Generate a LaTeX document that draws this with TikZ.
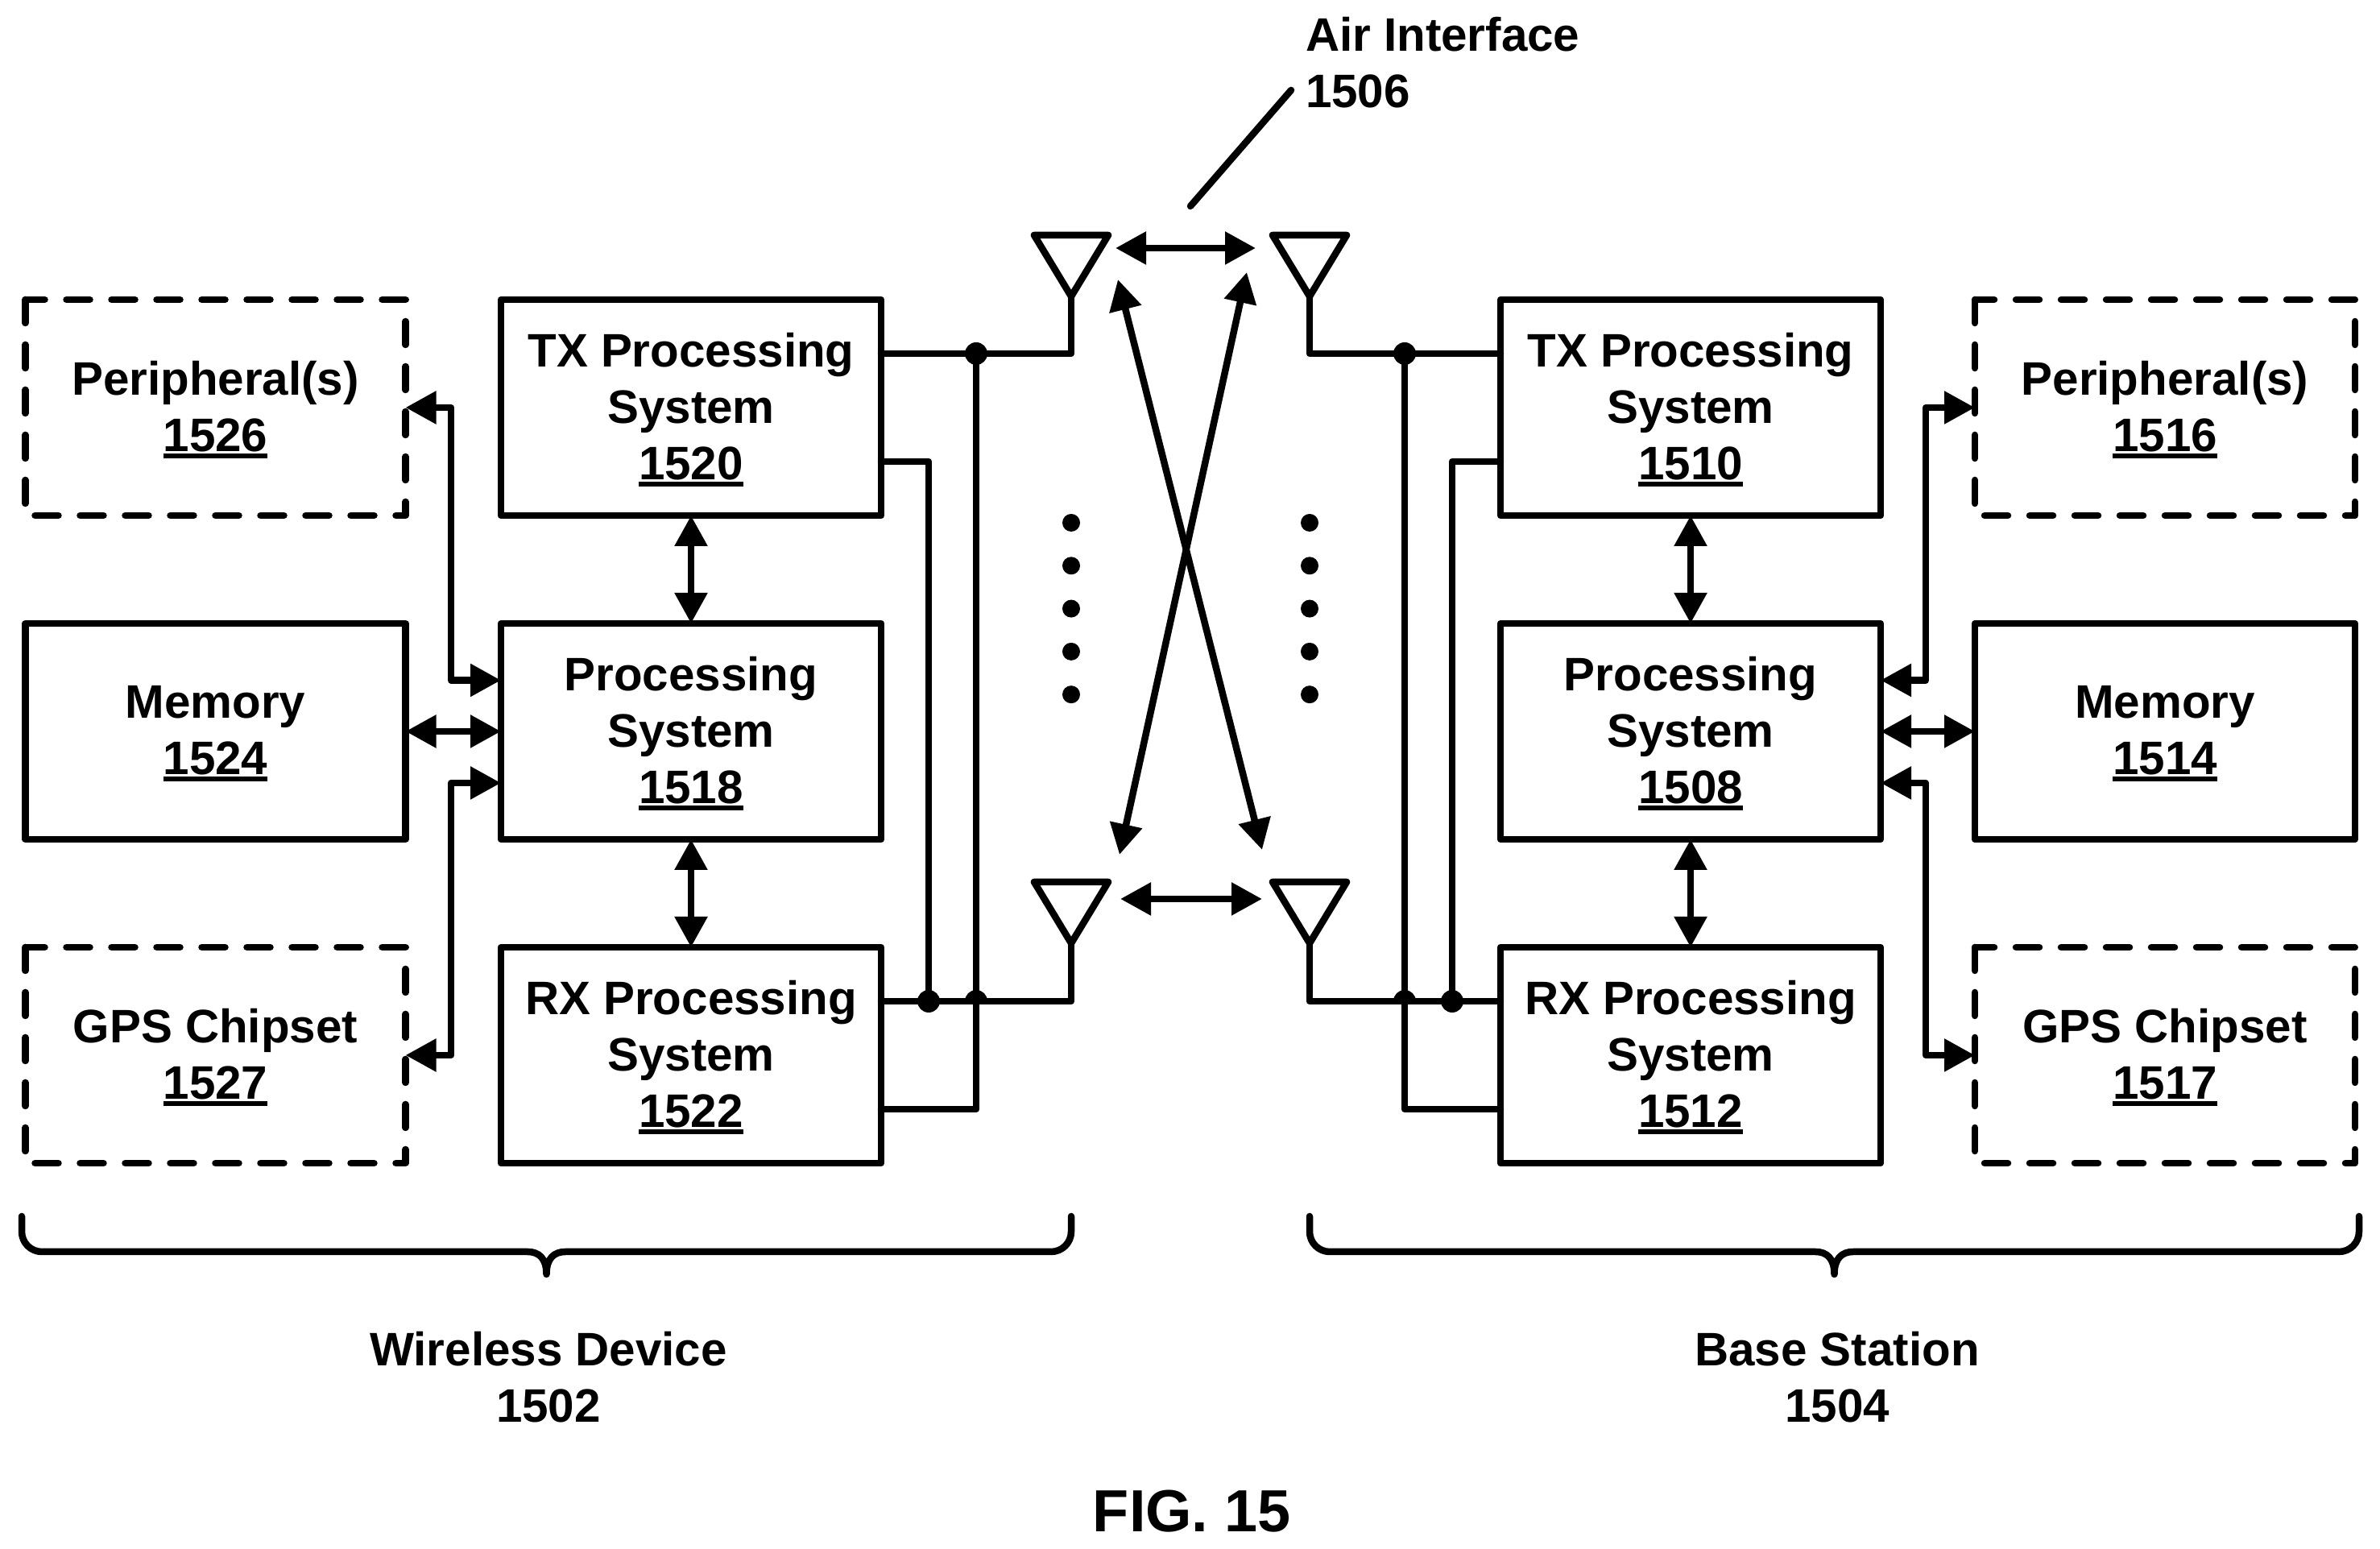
\documentclass[tikz,border=0pt]{standalone}
\usepackage{fontspec}
\setmainfont{Liberation Sans}
\usetikzlibrary{arrows.meta}
\tikzstyle{every node}=[font=\fontsize{16.6}{19.9}\selectfont\bfseries,align=center,inner sep=0pt,outer sep=0pt]
\tikzstyle{blockbox}=[minimum width=4.72cm,minimum height=2.68cm]
\tikzstyle{solidbox}=[blockbox,draw]
\tikzstyle{dashline}=[dash pattern=on 0.29cm off 0.27cm]
\tikzstyle{twoway}=[{Triangle[length=0.38cm,width=0.39cm]}-{Triangle[length=0.38cm,width=0.39cm]}]
\tikzset{
	antenna/.pic={\draw (0,0) -- (-0.46,0.76) -- (0.46,0.76) -- cycle;},
	bracket/.pic={\draw (0,0) -- (0,-0.19) arc[start angle=180,end angle=270,radius=0.25] -- (6.28,-0.44)
		.. controls (6.42,-0.44) and (6.515,-0.52) .. (6.515,-0.72)
		.. controls (6.515,-0.52) and (6.61,-0.44) .. (6.75,-0.44) -- (12.78,-0.44)
		arc[start angle=270,end angle=360,radius=0.25] -- (13.03,0);}
}
\newcommand{\refnum}[1]{\setbox0=\hbox{#1}\rlap{#1}\smash{\rule[-0.085cm]{\wd0}{0.06cm}}\rule[-0.04cm]{0pt}{0.04cm}}
\newcommand{\hopdot}[1]{\fill (#1) ++(-0.14,0) arc[start angle=180,end angle=0,radius=0.14] -- cycle;}

\begin{document}
\begin{tikzpicture}[line width=0.085cm,line cap=round,line join=round,node distance=4.02cm]
	\useasboundingbox (0,0) rectangle (29.55,19.23);
	% wireless device
	\node[solidbox] (proc_w) at (8.58,10.15)         {Processing\\System\\\refnum{1518}};
	\node[solidbox] (tx_w)   [above of=proc_w]       {TX Processing\\System\\\refnum{1520}};
	\node[solidbox] (rx_w)   [below of=proc_w]       {RX Processing\\System\\\refnum{1522}};
	\node[solidbox] (mem_w)  [left of=proc_w,node distance=5.905cm] {Memory\\\refnum{1524}};
	\node[blockbox] (per_w)  [left of=tx_w,node distance=5.905cm]   {Peripheral(s)\\\refnum{1526}};
	\node[blockbox] (gps_w)  [left of=rx_w,node distance=5.905cm]   {GPS Chipset\\\refnum{1527}};
	% base station
	\node[solidbox] (proc_b) at (20.99,10.15)        {Processing\\System\\\refnum{1508}};
	\node[solidbox] (tx_b)   [above of=proc_b]       {TX Processing\\System\\\refnum{1510}};
	\node[solidbox] (rx_b)   [below of=proc_b]       {RX Processing\\System\\\refnum{1512}};
	\node[solidbox] (mem_b)  [right of=proc_b,node distance=5.89cm] {Memory\\\refnum{1514}};
	\node[blockbox] (per_b)  [right of=tx_b,node distance=5.89cm]   {Peripheral(s)\\\refnum{1516}};
	\node[blockbox] (gps_b)  [right of=rx_b,node distance=5.89cm]   {GPS Chipset\\\refnum{1517}};
	\foreach \n in {per_w,gps_w,per_b,gps_b}
		\draw[dashline] (\n.north west) |- (\n.south east) |- (\n.north west);
	% labels
	\node (air_lbl) [anchor=west,align=left] at (16.21,18.455) {Air Interface\\1506};
	\node (wd_lbl) at (6.81,2.135)  {Wireless Device\\1502};
	\node (bs_lbl) at (22.81,2.135) {Base Station\\1504};
	\node (fig_lbl) [font=\fontsize{21}{25}\selectfont\bfseries] at (14.80,0.47) {FIG. 15};
	% antennas
	\coordinate (ant_wt) at (13.30,15.55);
	\coordinate (ant_bt) at (16.26,15.55);
	\coordinate (ant_wr) at (13.30,7.52);
	\coordinate (ant_br) at (16.26,7.52);
	\foreach \a in {ant_wt,ant_bt,ant_wr,ant_br}
		\pic at (\a) {antenna};
	\foreach \x in {13.30,16.26}
		\foreach \k in {0,...,4}
			\fill (\x,12.74-0.533*\k) circle (0.11);
	% wiring, wireless device
	\coordinate (j_wt) at (12.12,14.84);
	\coordinate (s_wt) at (11.53,13.50);
	\coordinate (j_wr) at (11.53,6.80);
	\coordinate (h_wr) at (12.12,6.80);
	\coordinate (e_wr) at (12.12,5.46);
	\draw (tx_w.east |- j_wt) -- (j_wt) -| (ant_wt);
	\draw (tx_w.east |- s_wt) -- (s_wt) -- (j_wr);
	\draw (rx_w.east |- j_wr) -- (j_wr) -| (ant_wr);
	\draw (j_wt) -- (e_wr) -- (rx_w.east |- e_wr);
	\fill (j_wt) circle (0.14);
	\fill (j_wr) circle (0.14);
	\hopdot{h_wr}
	% wiring, base station
	\coordinate (j_bt) at (17.44,14.84);
	\coordinate (s_bt) at (18.03,13.50);
	\coordinate (j_br) at (18.03,6.80);
	\coordinate (h_br) at (17.44,6.80);
	\coordinate (e_br) at (17.44,5.46);
	\draw (tx_b.west |- j_bt) -- (j_bt) -| (ant_bt);
	\draw (tx_b.west |- s_bt) -- (s_bt) -- (j_br);
	\draw (rx_b.west |- j_br) -- (j_br) -| (ant_br);
	\draw (j_bt) -- (e_br) -- (rx_b.west |- e_br);
	\fill (j_bt) circle (0.14);
	\fill (j_br) circle (0.14);
	\hopdot{h_br}
	% block arrows
	\coordinate (bus_wu) at (5.60,10.785);
	\coordinate (bus_wd) at (5.60,9.51);
	\coordinate (bus_bu) at (23.91,10.785);
	\coordinate (bus_bd) at (23.91,9.51);
	\draw[twoway] (tx_w) -- (proc_w);
	\draw[twoway] (proc_w) -- (rx_w);
	\draw[twoway] (mem_w) -- (proc_w);
	\draw[twoway] (per_w.east) -| (bus_wu) -- (proc_w.west |- bus_wu);
	\draw[twoway] (gps_w.east) -| (bus_wd) -- (proc_w.west |- bus_wd);
	\draw[twoway] (tx_b) -- (proc_b);
	\draw[twoway] (proc_b) -- (rx_b);
	\draw[twoway] (mem_b) -- (proc_b);
	\draw[twoway] (per_b.west) -| (bus_bu) -- (proc_b.east |- bus_bu);
	\draw[twoway] (gps_b.west) -| (bus_bd) -- (proc_b.east |- bus_bd);
	% air interface
	\coordinate (ar_a) at (13.85,16.15);
	\coordinate (ar_b) at (15.59,16.15);
	\coordinate (ar_c) at (13.91,8.07);
	\coordinate (ar_d) at (15.67,8.07);
	\coordinate (ar_e) at (13.88,15.76);
	\coordinate (ar_f) at (15.67,8.68);
	\coordinate (ar_g) at (15.48,15.85);
	\coordinate (ar_h) at (13.90,8.62);
	\coordinate (lead_a) at (16.03,18.11);
	\coordinate (lead_b) at (14.78,16.67);
	\draw[twoway] (ar_a) -- (ar_b);
	\draw[twoway] (ar_c) -- (ar_d);
	\draw[twoway] (ar_e) -- (ar_f);
	\draw[twoway] (ar_g) -- (ar_h);
	\draw (lead_a) -- (lead_b);
	% brackets
	\pic at (0.27,4.13) {bracket};
	\pic at (16.26,4.13) {bracket};
\end{tikzpicture}
\end{document}
